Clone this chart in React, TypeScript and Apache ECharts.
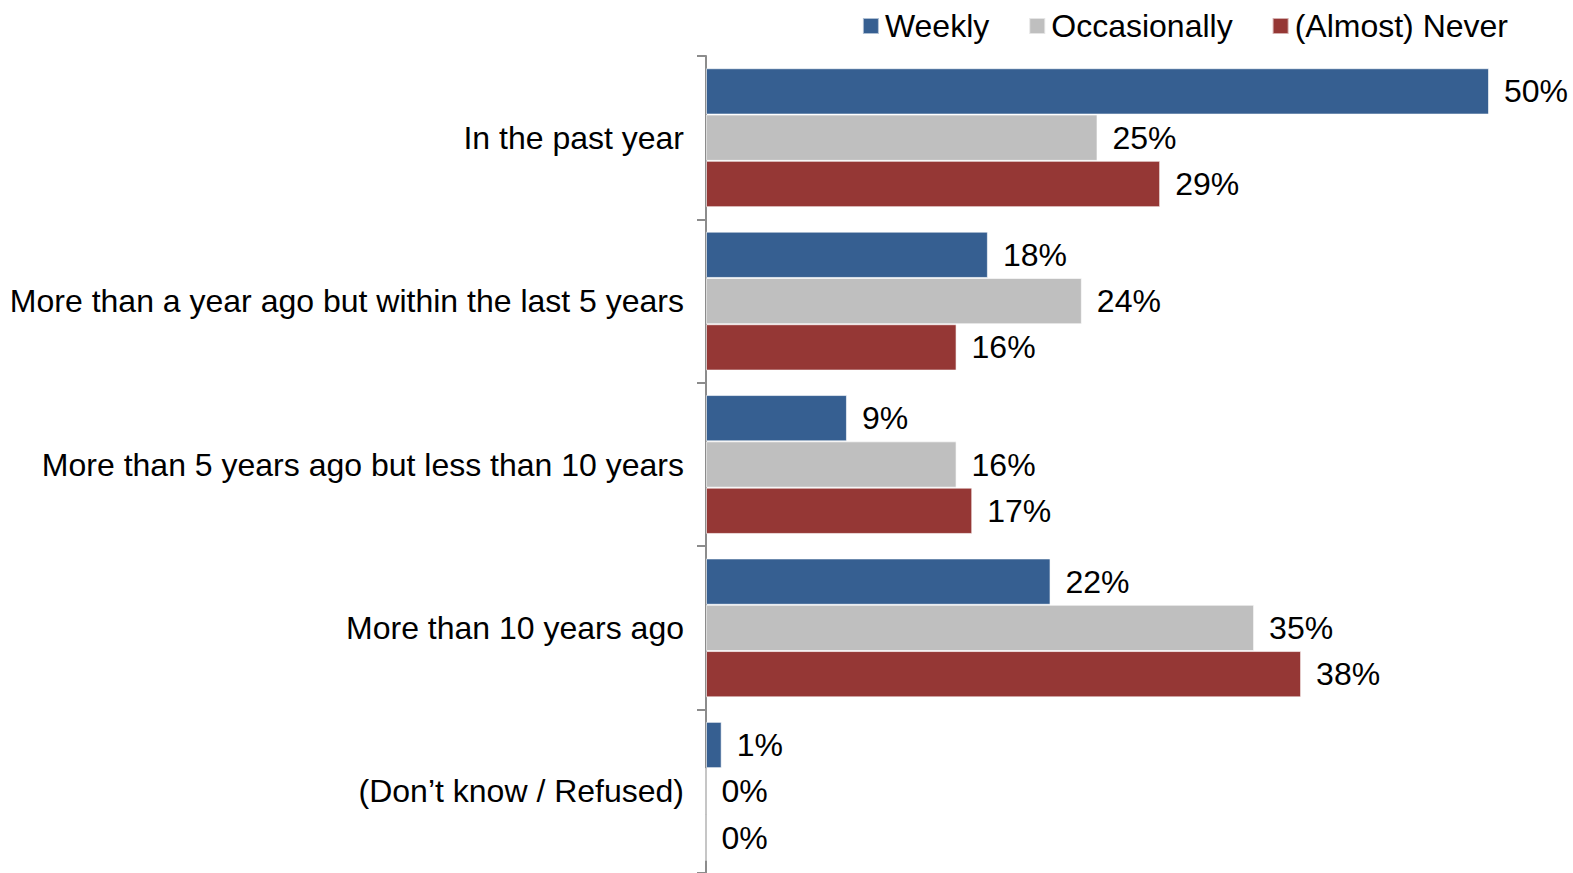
import React, { useEffect, useRef } from "react";
import * as echarts from "echarts";

const categories = [
  "In the past year",
  "More than a year ago but within the last 5 years",
  "More than 5 years ago but less than 10 years",
  "More than 10 years ago",
  "(Don\u2019t know / Refused)",
];
const weekly = [50, 18, 9, 22, 1];
const occasionally = [25, 24, 16, 35, 0];
const almostNever = [29, 16, 17, 38, 0];

const seriesNames = ["Weekly", "Occasionally", "(Almost) Never"];
const colors = ["#365F91", "#BFBFBF", "#953735"];

export default function App() {
  const ref = useRef<HTMLDivElement>(null);
  useEffect(() => {
    if (!ref.current) return;
    const chart = echarts.init(ref.current, undefined, { renderer: "svg" });
    const font = "'Liberation Sans', Arial, sans-serif";
    const data = [weekly, occasionally, almostNever];
    chart.setOption({
      animation: false,
      textStyle: { fontFamily: font },
      legend: {
        top: 5,
        right: 60,
        itemWidth: 16,
        itemHeight: 16,
        itemGap: 39,
        icon: "rect",
        textStyle: { fontSize: 32, color: "#000", fontFamily: font, padding: [0, 0, 0, 1] },
        data: seriesNames,
      },
      grid: { left: 706, right: 84, top: 56, bottom: 0, containLabel: false },
      xAxis: {
        type: "value",
        min: 0,
        max: 50,
        show: false,
      },
      yAxis: {
        type: "category",
        data: categories,
        inverse: true,
        axisLine: { show: true, lineStyle: { color: "#8C8C8C", width: 2 } },
        axisTick: { show: true, length: 9, lineStyle: { color: "#8C8C8C", width: 2 } },
        axisLabel: {
          margin: 22,
          fontSize: 32,
          color: "#000",
          fontFamily: font,
          lineHeight: 32,
          padding: [6, 0, 0, 0],
        },
        splitLine: { show: false },
      },
      series: seriesNames.map((name, i) => ({
        name,
        type: "bar",
        data: data[i],
        barGap: "0%",
        barCategoryGap: "15%",
        itemStyle: { color: colors[i], borderColor: "rgba(255,255,255,0.6)", borderWidth: 1 },
        label: {
          show: true,
          position: "right",
          distance: 15,
          formatter: "{c}%",
          fontSize: 32,
          color: "#000",
          fontFamily: font,
          padding: [3, 0, 0, 0],
        },
      })),
    });
    return () => chart.dispose();
  }, []);
  return (
    <div
      ref={ref}
      style={{ position: "fixed", left: 0, top: 0, width: 1573, height: 873, background: "#fff" }}
    />
  );
}
